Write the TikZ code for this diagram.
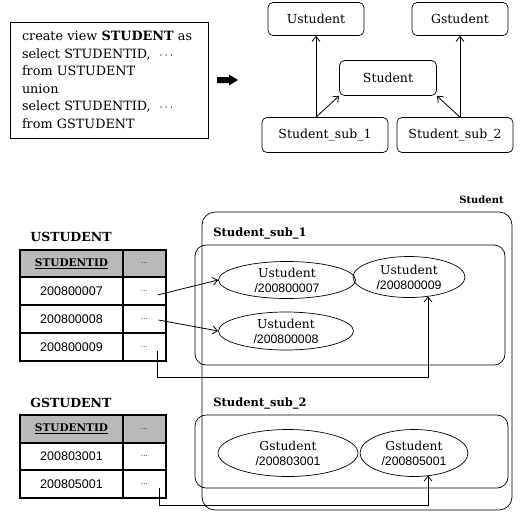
\documentclass[tikz,border=0pt]{standalone}
\usepackage{fontspec}
\setmainfont{DejaVu Serif}
\newfontfamily\numfont{Liberation Sans}
\usetikzlibrary{shapes.geometric,arrows.meta,calc}

\begin{document}
\begin{tikzpicture}[x=1pt,y=-1pt,
  line width=0.7pt,
  arr/.style={-{Straight Barb[length=5pt,width=8pt]}, line width=0.8pt},
  entbox/.style={draw, rounded corners=5pt, minimum height=33pt, inner sep=0pt,
                 font=\fontsize{12.5}{14}\selectfont},
  inst/.style={draw, ellipse, inner sep=0pt, align=center,
               font=\fontsize{12.3}{15}\selectfont},
  grp/.style={draw, rounded corners=11pt},
  lbl/.style={anchor=west, inner sep=0pt, font=\bfseries\fontsize{12}{14}\selectfont},
  cell/.style={draw, line width=1.1pt, inner sep=0pt, minimum height=28pt,
               font=\numfont\fontsize{12.5}{14}\selectfont},
  idcell/.style={cell, minimum width=103pt},
  dotcell/.style={cell, minimum width=43pt},
  head/.style={fill=gray!55},
]
\useasboundingbox (0,0) rectangle (527,512);

% ---------- view definition and its hierarchy ----------
\node[draw, line width=0.8pt, text width=174pt, inner xsep=12pt, align=left,
      minimum height=116pt, font=\fontsize{12.8}{17.5}\selectfont] (sql) at (109,80)
  {create view \textbf{STUDENT} as\\
   select STUDENTID,~ $\cdots$\\
   from USTUDENT\\
   union\\
   select STUDENTID,~ $\cdots$\\
   from GSTUDENT};

% block arrow between the definition and the hierarchy
\fill (217,77) -- (229,77) -- (229,74.5) -- (238,80) -- (229,85.5) -- (229,83)
      -- (217,83) -- cycle;

\node[entbox, minimum width=96pt] (U) at (316,19) {Ustudent};
\node[entbox, minimum width=96pt] (G) at (460,19) {Gstudent};
\node[entbox, minimum width=97pt, minimum height=35pt] (S) at (388,78) {Student};
\node[entbox, minimum width=126pt, minimum height=35pt] (sub1) at (325,135) {Student\_sub\_1};
\node[entbox, minimum width=116pt, minimum height=35pt] (sub2) at (455,135) {Student\_sub\_2};

\coordinate (s1top) at (sub1.north -| U.south);
\coordinate (s2top) at (sub2.north -| G.south);
\draw[arr] (s1top) -- (U.south);
\draw[arr] (s1top) -- (S.south west);
\draw[arr] (s2top) -- (G.south);
\draw[arr] (s2top) -- (S.south east);

% ---------- instance view ----------
\node[anchor=east, inner sep=0pt, font=\bfseries\fontsize{10}{12}\selectfont] (stlbl) at (504,200) {Student};
\draw[grp, rounded corners=13pt] (202,212) rectangle (512,510);

\node[lbl, font=\bfseries\fontsize{11.5}{14}\selectfont] (l1) at (213,233) {Student\_sub\_1};
\draw[grp] (195,245) rectangle (505,365);
\node[lbl, font=\bfseries\fontsize{11.5}{14}\selectfont] (l2) at (213,403) {Student\_sub\_2};
\draw[grp] (195,415) rectangle (508,488);

\node[inst, minimum width=137pt, minimum height=37pt] (e1) at (287,280)
  {Ustudent\\{\numfont /200800007}};
\node[inst, minimum width=112pt, minimum height=41pt] (e2) at (409,277)
  {Ustudent\\{\numfont /200800009}};
\node[inst, minimum width=135pt, minimum height=38pt] (e3) at (286,331)
  {Ustudent\\{\numfont /200800008}};
\node[inst, minimum width=140pt, minimum height=47pt] (g1) at (288,453)
  {Gstudent\\{\numfont /200803001}};
\node[inst, minimum width=108pt, minimum height=47pt] (g2) at (414,453)
  {Gstudent\\{\numfont /200805001}};

% ---------- USTUDENT table ----------
\node[lbl, font=\bfseries\fontsize{12.5}{14}\selectfont] (ut) at (30,237) {USTUDENT};
\node[idcell, head, minimum height=27pt, font=\bfseries\fontsize{10.5}{12}\selectfont] (uh1) at (71.5,263.5) {\underline{STUDENTID}};
\node[dotcell, head, minimum height=27pt, font=\scriptsize] (uh2) at (144.5,263.5) {...};
\node[idcell] (u1) at (71.5,291) {200800007};
\node[dotcell, font=\scriptsize] (u1d) at (144.5,291) {...};
\node[idcell] (u2) at (71.5,319) {200800008};
\node[dotcell, font=\scriptsize] (u2d) at (144.5,319) {...};
\node[idcell] (u3) at (71.5,347) {200800009};
\node[dotcell, font=\scriptsize] (u3d) at (144.5,347) {...};

% ---------- GSTUDENT table ----------
\node[lbl, font=\bfseries\fontsize{12.5}{14}\selectfont] (gt) at (30,403) {GSTUDENT};
\node[idcell, head, font=\bfseries\fontsize{10.5}{12}\selectfont] (gh1) at (71.5,429) {\underline{STUDENTID}};
\node[dotcell, head, font=\scriptsize] (gh2) at (144.5,429) {...};
\node[idcell] (g1r) at (71.5,456.5) {200803001};
\node[dotcell, font=\scriptsize] (g1d) at (144.5,456.5) {...};
\node[idcell] (g2r) at (71.5,484) {200805001};
\node[dotcell, font=\scriptsize] (g2d) at (144.5,484) {...};

% ---------- tuple to instance links ----------
\coordinate (p1) at ($(u1d.center)+(13,4)$);
\coordinate (p2) at ($(u2d.center)+(14,1)$);
\coordinate (p3) at ($(u3d.center)+(13,4)$);
\coordinate (p4) at ($(g2d.center)+(15,4)$);
\coordinate (t2) at ($(e2.center)+(19,19.5)$);
\coordinate (t5) at ($(g2.center)+(14,22.5)$);

\draw[arr] (p1) -- (e1.west);
\draw[arr] (p2) -- (e3.west);
\draw[arr] (p3) -- (p3 |- 0,377) -| (t2);
\draw[arr] (p4) -- (p4 |- 0,505) -| (t5);
\end{tikzpicture}
\end{document}
